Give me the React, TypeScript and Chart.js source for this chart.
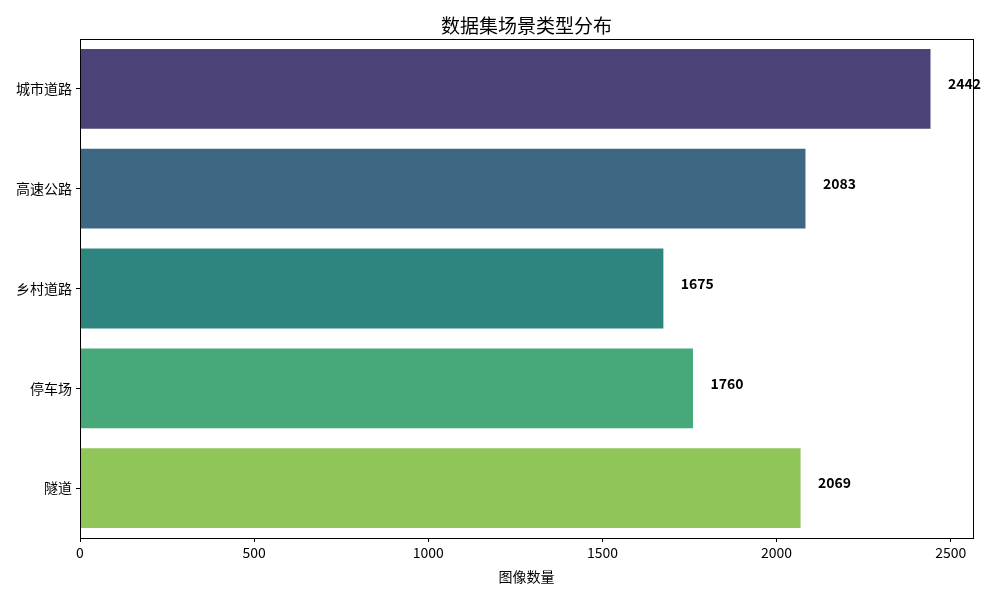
import { useEffect, useRef } from "react";
import { Chart, registerables } from "chart.js";

Chart.register(...registerables);

const categories = ["城市道路", "高速公路", "乡村道路", "停车场", "隧道"];
const counts = [2442, 2083, 1675, 1760, 2069];
const barColors = ["#4b4278", "#3e6784", "#2e8580", "#47a97a", "#90c55a"];
const xTickValues = [0, 500, 1000, 1500, 2000, 2500];
const xMax = 2564;
const labelOffset = 50;
const chartTitle = "数据集场景类型分布";
const xTitle = "图像数量";

const FONT = "'Noto Sans CJK SC', 'Noto Sans', sans-serif";

const decorations = {
  id: "decorations",
  afterDraw(chart: Chart) {
    const { ctx, chartArea } = chart;
    const x = chart.scales.x;
    const y = chart.scales.y;
    ctx.save();

    // full frame
    ctx.strokeStyle = "#000";
    ctx.lineWidth = 1;
    ctx.strokeRect(
      Math.round(chartArea.left) + 0.5,
      Math.round(chartArea.top) + 0.5,
      Math.round(chartArea.right - chartArea.left),
      Math.round(chartArea.bottom - chartArea.top)
    );

    ctx.fillStyle = "#000";
    ctx.textAlign = "center";
    ctx.textBaseline = "middle";
    ctx.font = `19px ${FONT}`;
    ctx.fillText(chartTitle, (chartArea.left + chartArea.right) / 2, 26);

    ctx.font = `14px ${FONT}`;
    ctx.fillText(xTitle, (chartArea.left + chartArea.right) / 2, 577);

    // value labels
    ctx.font = `bold 14px ${FONT}`;
    ctx.textAlign = "left";
    counts.forEach((v, i) => {
      const px = x.getPixelForValue(v + labelOffset);
      const py = y.getPixelForValue(i) - 5;
      ctx.fillText(String(v), px, py);
    });
    ctx.restore();
  },
};

export default function App() {
  const canvasRef = useRef<HTMLCanvasElement | null>(null);
  const chartRef = useRef<Chart | null>(null);

  useEffect(() => {
    document.body.style.margin = "0";
    const canvas = canvasRef.current;
    if (!canvas) return;

    chartRef.current?.destroy();
    chartRef.current = new Chart(canvas, {
      type: "bar",
      data: {
        labels: categories,
        datasets: [
          {
            data: counts,
            backgroundColor: barColors,
            borderWidth: 0,
            barPercentage: 0.8,
            categoryPercentage: 1.0,
          },
        ],
      },
      options: {
        indexAxis: "y",
        responsive: false,
        animation: false,
        devicePixelRatio: 1,
        layout: { padding: { top: 39, right: 27, left: 0, bottom: 0 } },
        plugins: {
          legend: { display: false },
          tooltip: { enabled: false },
          title: { display: false },
        },
        scales: {
          x: {
            min: 0,
            max: xMax,
            afterBuildTicks: (scale) => {
              scale.ticks = xTickValues.map((value) => ({ value }));
            },
            grid: {
              display: true,
              drawOnChartArea: false,
              drawTicks: true,
              tickLength: 4,
              tickColor: "#000",
            },
            border: { display: true, color: "#000", width: 1 },
            ticks: {
              color: "#000",
              padding: 2,
              autoSkip: false,
              maxRotation: 0,
              font: { family: FONT, size: 14 },
              callback: (value) => String(value),
            },
            afterFit: (scale) => {
              scale.height = 62;
            },
          },
          y: {
            grid: {
              display: true,
              offset: false,
              drawOnChartArea: false,
              drawTicks: true,
              tickLength: 4,
              tickColor: "#000",
            },
            border: { display: true, color: "#000", width: 1 },
            ticks: {
              color: "#000",
              padding: 4,
              font: { family: FONT, size: 14 },
            },
            afterFit: (scale) => {
              scale.width = 80;
            },
          },
        },
      },
      plugins: [decorations],
    });

    return () => {
      chartRef.current?.destroy();
      chartRef.current = null;
    };
  }, []);

  return (
    <div style={{ width: 1000, height: 600, background: "#fff" }}>
      <canvas ref={canvasRef} width={1000} height={600} />
    </div>
  );
}
